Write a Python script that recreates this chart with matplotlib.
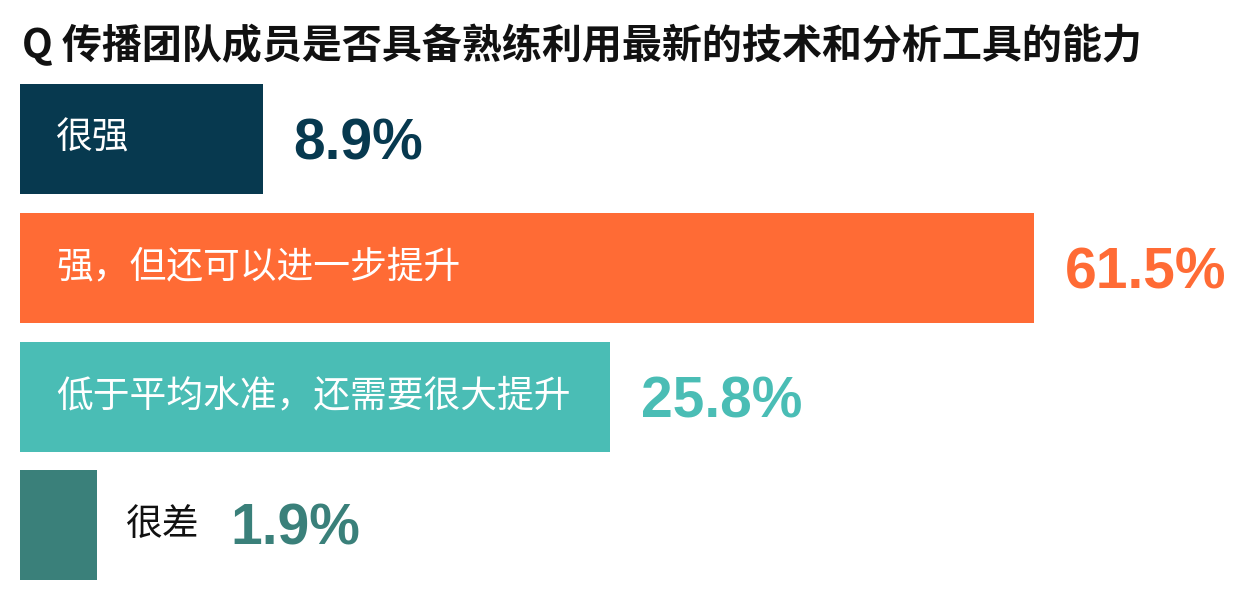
import numpy as np
import matplotlib
matplotlib.use('Agg')
import matplotlib.pyplot as plt

title = 'Q 传播团队成员是否具备熟练利用最新的技术和分析工具的能力'
labels = ['很强', '强，但还可以进一步提升', '低于平均水准，还需要很大提升', '很差']
values = [8.9, 61.5, 25.8, 1.9]
colors = ['#07394F', '#FF6B35', '#4ABDB5', '#3A807A']
label_inside = [True, True, True, False]

cjk = ['Noto Sans CJK SC', 'DejaVu Sans']
num_font = ['Liberation Sans', 'DejaVu Sans']
plt.rcParams['font.family'] = cjk

# bar lengths follow a compressed (power) scale, like the original infographic
P = 0.74
fwd = lambda v: np.sign(v) * np.abs(v) ** P
inv = lambda v: np.sign(v) * np.abs(v) ** (1 / P)

W, H = 1256, 590
NUM_PT = 41
num_dy = -0.358 * NUM_PT * 100 / 72   # put the digit middle on the bar middle

fig = plt.figure(figsize=(W / 100, H / 100), dpi=100)
ax = fig.add_axes([20 / W, 0.0005, 1236 / W, 514.7 / H])
ax.set_xscale('function', functions=(fwd, inv))
xmax = inv(fwd(max(values)) * 1236 / 1014)
ax.set_xlim(0, xmax)
ax.set_ylim(len(values) - 0.5, -0.5)
ax.axis('off')

fig.text(22 / W, 1 - 46 / H, title, fontsize=28.8, fontweight='bold',
         color='#111111', va='center', ha='left')

ypos = np.arange(len(values))
bars = ax.barh(ypos, values, height=0.855, color=colors, left=0)

renderer = fig.canvas.get_renderer()
for i, (lab, inside) in enumerate(zip(labels, label_inside)):
    if inside:
        t = ax.annotate(lab, xy=(0, i), xytext=(36, 1), textcoords='offset pixels',
                        va='center', ha='left', color='white', fontsize=26.5)
        # stretch the bar if the label would not fit
        x1 = t.get_window_extent(renderer).x1 + 40
        need = ax.transData.inverted().transform((x1, 0))[0]
        if need > bars[i].get_width():
            bars[i].set_width(need)
        ax.annotate(f'{values[i]}%', xy=(bars[i].get_width(), i), xytext=(31, num_dy),
                    textcoords='offset pixels', va='baseline', ha='left',
                    color=colors[i], fontsize=NUM_PT, fontweight='bold', family=num_font)
    else:
        t = ax.annotate(lab, xy=(bars[i].get_width(), i), xytext=(29, 1),
                        textcoords='offset pixels', va='center', ha='left',
                        color='#111111', fontsize=26.5)
        ax.annotate(f'{values[i]}%', xy=(1, 0.5), xycoords=t, xytext=(31, num_dy),
                    textcoords='offset pixels', va='baseline', ha='left',
                    color=colors[i], fontsize=NUM_PT, fontweight='bold', family=num_font)

fig.savefig('out.png', dpi=100, facecolor='white')
